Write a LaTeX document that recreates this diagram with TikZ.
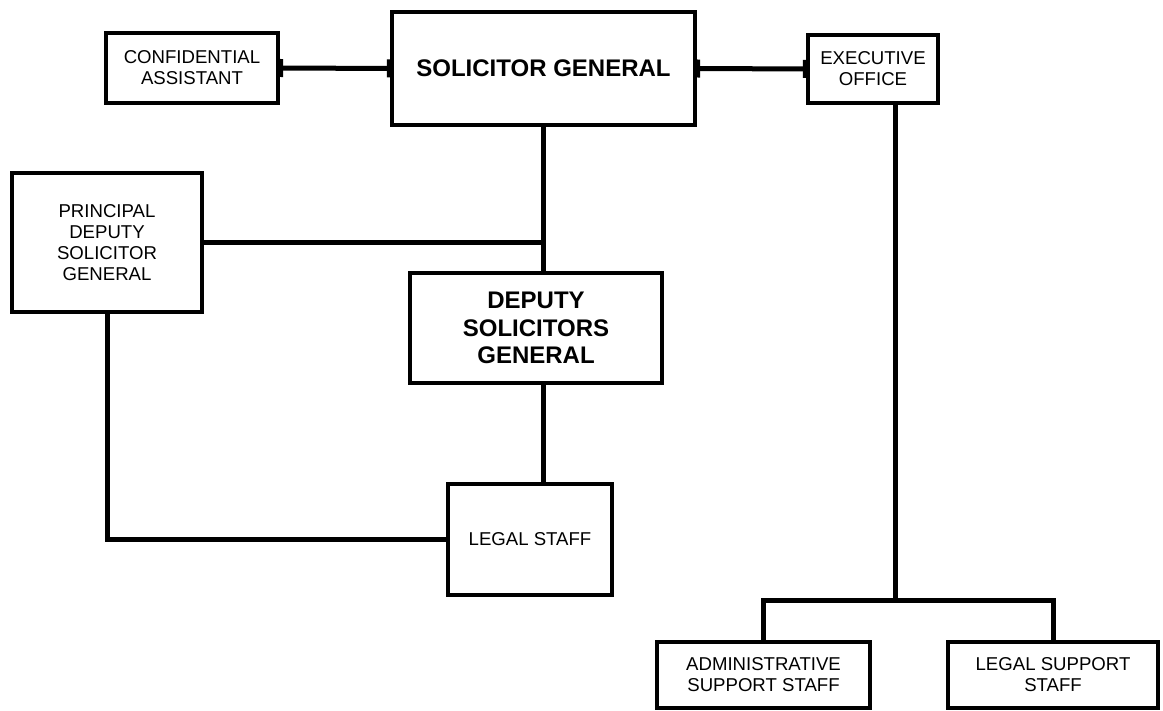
\documentclass[tikz,border=0pt]{standalone}
\usepackage{fontspec}
\setmainfont{Liberation Sans}
\usepackage{tikz}
\usetikzlibrary{arrows,arrows.meta}

\tikzset{
	unit/.style={draw,line width=2pt,align=center,inner sep=2pt,
		font=\fontsize{9.3}{10.5}\selectfont},
	headunit/.style={unit,font=\bfseries\fontsize{12}{13.8}\selectfont},
	link/.style={line width=2.5pt},
	tick/.style={link,{Bar[width=9pt,line width=1.6pt]}-{Bar[width=9pt,line width=1.6pt]}}
}

\begin{document}
\begin{tikzpicture}[x=0.5pt,y=-0.5pt]
		\useasboundingbox (0,0) rectangle (1163,711);
		
		% top row
		\node[unit,minimum width=86pt,minimum height=35pt] (conf) at (192,68) {CONFIDENTIAL\\ASSISTANT};
		\node[headunit,minimum width=151.5pt,minimum height=56.5pt] (sg) at (543.5,68.5) {SOLICITOR GENERAL};
		\node[unit,minimum width=65pt,minimum height=34pt] (exec) at (873,69) {EXECUTIVE\\OFFICE};
		
		% left branch
		\node[unit,minimum width=95pt,minimum height=69.5pt] (pdsg) at (107,242.5) {PRINCIPAL\\DEPUTY\\SOLICITOR\\GENERAL};
		\node[headunit,minimum width=126pt,minimum height=55pt] (dsg) at (536,328) {DEPUTY\\SOLICITORS\\GENERAL};
		\node[unit,minimum width=82pt,minimum height=55.5pt] (ls) at (530,539.5) {LEGAL STAFF};
		
		% right branch
		\node[unit,minimum width=106.5pt,minimum height=33pt] (adm) at (763.5,675) {ADMINISTRATIVE\\SUPPORT STAFF};
		\node[unit,minimum width=105pt,minimum height=33pt] (lss) at (1053,675) {LEGAL SUPPORT\\STAFF};
		\coordinate (branch) at (895,600);
		
		\draw[tick] (conf.east) -- (sg.west);
		\draw[tick] (sg.east) -- (exec.west);
		
		\draw[link] (sg.south) -- (sg.south |- dsg.north);
		\draw[link] (pdsg.east) -- (pdsg.east -| sg.south);
		\draw[link] (sg.south |- dsg.south) -- (sg.south |- ls.north);
		\draw[link] (pdsg.south) |- (ls.west);
		
		\draw[link] (exec.south -| branch) -- (branch);
		\draw[link] (adm.north) |- (branch) -| (lss.north);
	\end{tikzpicture}
\end{document}
